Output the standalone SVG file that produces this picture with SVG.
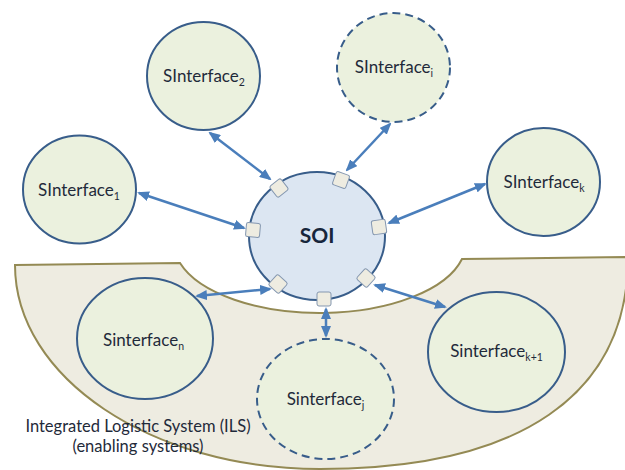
<svg xmlns="http://www.w3.org/2000/svg" width="625" height="470" viewBox="0 0 625 470">
<defs>
<style>
.ifc{fill:#ebf1de;stroke:#385d8a;stroke-width:2}
.dash{stroke-dasharray:8 5}
.soi{fill:#dce6f2;stroke:#385d8a;stroke-width:2}
.port{fill:#eeece1;stroke:#8497b0;stroke-width:1}
.lbl{font-family:Lato,"Open Sans","Liberation Sans",sans-serif;font-size:17px;fill:#1f2a3a;text-anchor:middle}
.sub{font-size:10.5px}
.conn{stroke:#4a7ebb;stroke-width:2.5;fill:none;marker-start:url(#ah);marker-end:url(#ah)}
</style>
<marker id="ah" markerUnits="userSpaceOnUse" markerWidth="12" markerHeight="10" refX="10" refY="5" orient="auto-start-reverse"><path d="M0,0 L12,5 L0,10 z" fill="#4a7ebb"/></marker>
<rect id="p" x="-7" y="-7" width="14" height="14" rx="2" class="port"/>
</defs>
<g id="ils">
<path d="M15,265 L180,263 A146,70 0 0 0 462,259 L628,257 C628,395 520,469 320,469 C151.6,469 15,377.6 15,265 Z" fill="#eeece1" stroke="#948a54" stroke-width="2"/>
<text class="lbl" x="138" y="432" style="font-size:16.5px">Integrated Logistic System (ILS)</text>
<text class="lbl" x="138" y="452" style="font-size:16.5px">(enabling systems)</text>
</g>
<g id="soi">
<ellipse class="soi" cx="317" cy="236" rx="68" ry="64"/>
<text class="lbl" x="317" y="243" style="font-size:21px;font-weight:bold;fill:#17263c">SOI</text>
<use href="#p" transform="translate(279,188) rotate(-38)"/>
<use href="#p" transform="translate(341,180) rotate(20)"/>
<use href="#p" transform="translate(253,230) rotate(5)"/>
<use href="#p" transform="translate(379,227) rotate(-8)"/>
<use href="#p" transform="translate(278,284) rotate(42)"/>
<use href="#p" transform="translate(366,278) rotate(42)"/>
<use href="#p" transform="translate(324,299)"/>
</g>
<g id="sinterface1">
<ellipse class="ifc" cx="79.5" cy="189.5" rx="56.5" ry="54"/>
<text class="lbl" x="79" y="196">SInterface<tspan class="sub" dy="4">1</tspan></text>
</g>
<g id="sinterface2">
<ellipse class="ifc" cx="203.5" cy="76" rx="56.5" ry="54"/>
<text class="lbl" x="204" y="82">SInterface<tspan class="sub" dy="4">2</tspan></text>
</g>
<g id="sinterfacei">
<ellipse class="ifc dash" cx="393.5" cy="67.5" rx="56.5" ry="54.5"/>
<text class="lbl" x="394" y="73">SInterface<tspan class="sub" dy="4">i</tspan></text>
</g>
<g id="sinterfacek">
<ellipse class="ifc" cx="543.5" cy="182" rx="56.5" ry="54"/>
<text class="lbl" x="544" y="188">SInterface<tspan class="sub" dy="4">k</tspan></text>
</g>
<g id="sinterfacen">
<ellipse class="ifc" cx="145" cy="338.5" rx="68" ry="60.5"/>
<text class="lbl" x="143.5" y="346">Sinterface<tspan class="sub" dy="4">n</tspan></text>
</g>
<g id="sinterfacej">
<ellipse class="ifc dash" cx="325.5" cy="399" rx="68.5" ry="60"/>
<text class="lbl" x="325.5" y="405">Sinterface<tspan class="sub" dy="4">j</tspan></text>
</g>
<g id="sinterfacek1">
<ellipse class="ifc" cx="496.5" cy="352" rx="68.5" ry="60"/>
<text class="lbl" x="496.5" y="357">Sinterface<tspan class="sub" dy="4">k+1</tspan></text>
</g>
<g id="connectors">
<line class="conn" x1="139" y1="193" x2="244" y2="228"/>
<line class="conn" x1="210" y1="133" x2="270" y2="179"/>
<line class="conn" x1="390" y1="124" x2="347" y2="170"/>
<line class="conn" x1="485" y1="184" x2="389" y2="223"/>
<line class="conn" x1="197" y1="296" x2="270" y2="289"/>
<line class="conn" x1="326" y1="309" x2="326" y2="336"/>
<line class="conn" x1="375" y1="285" x2="445" y2="307"/>
</g>
</svg>
